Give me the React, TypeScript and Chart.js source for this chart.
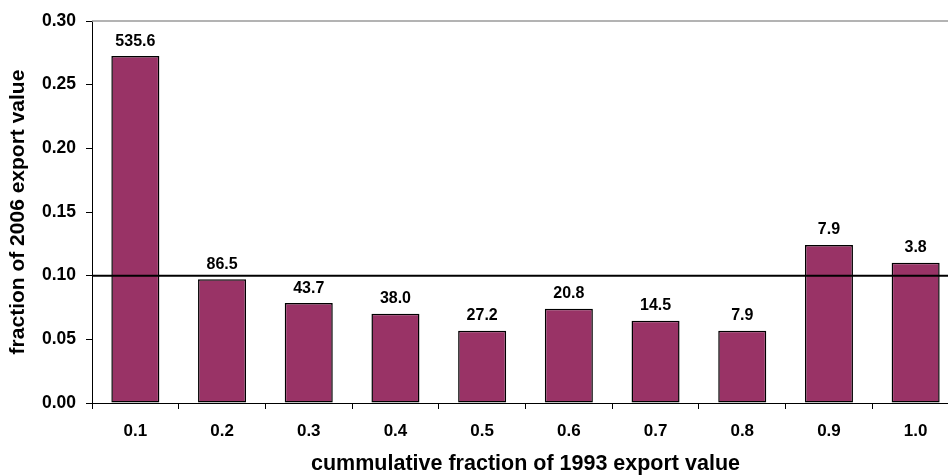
import React, { useEffect, useRef } from "react";
import { Chart, registerables } from "chart.js";

Chart.register(...registerables);

const categories = ["0.1", "0.2", "0.3", "0.4", "0.5", "0.6", "0.7", "0.8", "0.9", "1.0"];
const fraction2006 = [0.2725, 0.0971, 0.0785, 0.0701, 0.0568, 0.0741, 0.0646, 0.0568, 0.1241, 0.1102];
const barLabels = ["535.6", "86.5", "43.7", "38.0", "27.2", "20.8", "14.5", "7.9", "7.9", "3.8"];
const referenceLevel = 0.1;
const yTickValues = [0, 0.05, 0.1, 0.15, 0.2, 0.25, 0.3];

const FONT = "'Liberation Sans', Arial, sans-serif";

const overlayPlugin = {
  id: "overlay",
  afterDatasetsDraw(chart: any) {
    const { ctx, chartArea, scales } = chart;
    const y = scales.y;
    ctx.save();
    // top border of plot area
    ctx.strokeStyle = "#9a9a9a";
    ctx.lineWidth = 1.5;
    ctx.beginPath();
    ctx.moveTo(chartArea.left, chartArea.top);
    ctx.lineTo(chartArea.right, chartArea.top);
    ctx.stroke();
    // reference line
    const ry = y.getPixelForValue(referenceLevel);
    ctx.strokeStyle = "#000";
    ctx.lineWidth = 2;
    ctx.beginPath();
    ctx.moveTo(chartArea.left, ry);
    ctx.lineTo(chartArea.right, ry);
    ctx.stroke();
    // value labels
    const meta = chart.getDatasetMeta(0);
    ctx.fillStyle = "#000";
    ctx.font = `bold 16px ${FONT}`;
    ctx.textAlign = "center";
    ctx.textBaseline = "alphabetic";
    meta.data.forEach((bar: any, i: number) => {
      ctx.fillText(barLabels[i], bar.x, bar.y - 10.5);
    });
    ctx.restore();
  },
};

export default function App() {
  const ref = useRef<HTMLCanvasElement | null>(null);
  useEffect(() => {
    if (!ref.current) return;
    const chart = new Chart(ref.current, {
      type: "bar",
      data: {
        labels: categories,
        datasets: [
          {
            data: fraction2006,
            backgroundColor: "#993366",
            borderColor: "#000",
            borderWidth: 1.5,
            borderSkipped: false,
            barPercentage: 0.554,
            categoryPercentage: 1,
          },
        ],
      },
      options: {
        responsive: false,
        animation: false,
        devicePixelRatio: 1,
        layout: { padding: { top: 21, right: 1, left: 0, bottom: 0 } },
        plugins: { legend: { display: false }, tooltip: { enabled: false } },
        scales: {
          x: {
            afterFit: (s: any) => {
              s.height = 72;
            },
            grid: {
              offset: true,
              drawOnChartArea: false,
              drawTicks: true,
              tickLength: 6,
              color: "#000",
            },
            border: { display: true, color: "#000", width: 1 },
            ticks: {
              color: "#000",
              font: { family: FONT, size: 17, weight: "bold" },
              padding: 12,
              maxRotation: 0,
            },
            title: {
              display: true,
              text: "cummulative fraction of 1993 export value",
              color: "#000",
              font: { family: FONT, size: 21.5, weight: "bold", lineHeight: 1 },
              padding: { top: 0, bottom: 0 },
            },
          },
          y: {
            min: 0,
            max: 0.3,
            afterFit: (s: any) => {
              s.width = 92;
            },
            afterBuildTicks: (s: any) => {
              s.ticks = yTickValues.map((v) => ({ value: v }));
            },
            grid: {
              drawOnChartArea: false,
              drawTicks: true,
              tickLength: 6,
              color: "#000",
            },
            border: { display: true, color: "#000", width: 1 },
            ticks: {
              color: "#000",
              font: { family: FONT, size: 17.5, weight: "bold" },
              padding: 10,
              callback: (v: any) => Number(v).toFixed(2),
            },
            title: {
              display: true,
              text: "fraction of 2006 export value",
              color: "#000",
              font: { family: FONT, size: 21, weight: "bold", lineHeight: 1 },
              padding: { top: 7.5, bottom: 0 },
            },
          },
        },
      },
      plugins: [overlayPlugin],
    });
    return () => chart.destroy();
  }, []);

  return (
    <div
      style={{
        position: "fixed",
        left: 0,
        top: 0,
        width: 948,
        height: 475,
        overflow: "hidden",
        background: "#fff",
      }}
    >
      <canvas ref={ref} width={960} height={475} style={{ width: 960, height: 475, display: "block" }} />
    </div>
  );
}
